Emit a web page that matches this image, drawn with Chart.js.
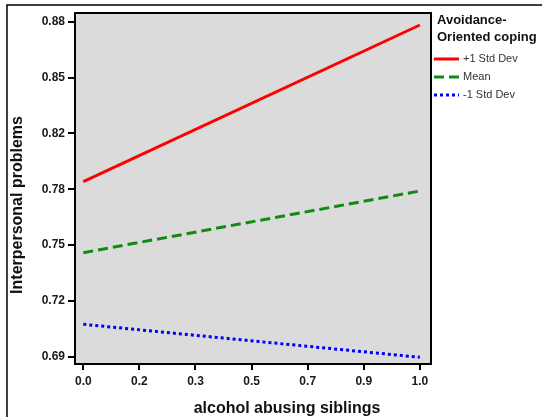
<!DOCTYPE html>
<html>
<head>
<meta charset="utf-8">
<script src="https://cdn.jsdelivr.net/npm/chart.js@4/dist/chart.umd.min.js"></script>
<style>
  html, body { margin:0; padding:0; background:#fff; }
  #wrap { width:542px; height:417px; position:relative; }
</style>
</head>
<body>
<div id="wrap"><canvas id="chart" width="542" height="417"></canvas></div>
<script>
// data
const xValues = [0, 1];
const plusOne = [0.7893, 0.8781];
const meanLine = [0.7490, 0.7840];
const minusOne = [0.7084, 0.6897];
const seriesNames = ["+1 Std Dev", "Mean", "-1 Std Dev"];

// tick positions and the labels shown on them
const xTickVals = [0, 0.1667, 0.3333, 0.5, 0.6667, 0.8333, 1];
const xTickLabels = ["0.0", "0.2", "0.3", "0.5", "0.7", "0.9", "1.0"];
const yTickVals = [0.69, 0.7217, 0.7533, 0.785, 0.8167, 0.8483, 0.88];
const yTickLabels = ["0.69", "0.72", "0.75", "0.78", "0.82", "0.85", "0.88"];

const legendTitle = ["Avoidance-", "Oriented coping"];
const xTitle = "alcohol abusing siblings";
const yTitle = "Interpersonal problems";

const FONT = "'Liberation Sans', Arial, sans-serif";

function pts(ys){
  return xValues.map((x, i) => ({ x: x, y: ys[i] }));
}

const frame = {
  id: "frame",
  beforeDatasetsDraw(chart){
    const { ctx, chartArea: a } = chart;
    ctx.save();
    ctx.fillStyle = "#dbdbdb";
    ctx.fillRect(a.left, a.top, a.right - a.left, a.bottom - a.top);
    ctx.restore();
  },
  afterDraw(chart){
    const { ctx, chartArea: a } = chart;
    ctx.save();
    // plot box
    ctx.strokeStyle = "#000";
    ctx.lineWidth = 2;
    ctx.strokeRect(a.left, a.top, a.right - a.left, a.bottom - a.top);

    // outer crop frame
    ctx.lineWidth = 1.5;
    ctx.beginPath();
    ctx.moveTo(7, 417);
    ctx.lineTo(7, 5);
    ctx.lineTo(542, 5);
    ctx.stroke();

    // axis titles
    ctx.fillStyle = "#111";
    ctx.font = "bold 16px " + FONT;
    ctx.textAlign = "center";
    ctx.textBaseline = "middle";
    ctx.fillText(xTitle, 287, 409);
    ctx.save();
    ctx.translate(18, 205);
    ctx.rotate(-Math.PI / 2);
    ctx.fillText(yTitle, 0, 0);
    ctx.restore();

    // legend
    ctx.textAlign = "left";
    ctx.font = "bold 13px " + FONT;
    ctx.fillText(legendTitle[0], 437, 20);
    ctx.fillText(legendTitle[1], 437, 37);
    ctx.font = "11px " + FONT;
    chart.data.datasets.forEach((ds, i) => {
      const y = 59 + i * 18;
      ctx.save();
      ctx.strokeStyle = ds.borderColor;
      ctx.lineWidth = ds.borderWidth;
      ctx.setLineDash(ds.borderDash || []);
      ctx.beginPath();
      ctx.moveTo(434, y);
      ctx.lineTo(459, y);
      ctx.stroke();
      ctx.restore();
      ctx.fillStyle = "#333";
      ctx.fillText(ds.label, 463, y);
    });
    ctx.restore();
  }
};

new Chart(document.getElementById("chart"), {
  type: "line",
  data: {
    datasets: [
      { label: seriesNames[0], data: pts(plusOne), borderColor: "#ff0000", borderWidth: 3, pointRadius: 0 },
      { label: seriesNames[1], data: pts(meanLine), borderColor: "#108a10", borderWidth: 3, borderDash: [10, 5], pointRadius: 0 },
      { label: seriesNames[2], data: pts(minusOne), borderColor: "#0000ff", borderWidth: 3, borderDash: [3, 3], pointRadius: 0 }
    ]
  },
  options: {
    responsive: false,
    animation: false,
    layout: { padding: { left: 0, right: 111, top: 13, bottom: 0 } },
    plugins: { legend: { display: false }, tooltip: { enabled: false } },
    scales: {
      x: {
        type: "linear",
        min: -0.0247,
        max: 1.033,
        afterFit: (s) => { s.height = 53; },
        afterBuildTicks: (s) => { s.ticks = xTickVals.map(v => ({ value: v })); },
        border: { display: false },
        grid: { drawOnChartArea: false, drawTicks: true, tickLength: 6, color: "#000", lineWidth: 2 },
        ticks: {
          padding: 4,
          maxRotation: 0,
          color: "#1a1a1a",
          font: { family: FONT, size: 12, weight: "bold" },
          callback: (v, i) => xTickLabels[i]
        }
      },
      y: {
        type: "linear",
        min: 0.6859,
        max: 0.8849,
        afterFit: (s) => { s.width = 75; },
        afterBuildTicks: (s) => { s.ticks = yTickVals.map(v => ({ value: v })); },
        border: { display: false },
        grid: { drawOnChartArea: false, drawTicks: true, tickLength: 7, color: "#000", lineWidth: 2 },
        ticks: {
          padding: 3,
          color: "#1a1a1a",
          font: { family: FONT, size: 12, weight: "bold" },
          callback: (v, i) => yTickLabels[i]
        }
      }
    }
  },
  plugins: [frame]
});
</script>
</body>
</html>
